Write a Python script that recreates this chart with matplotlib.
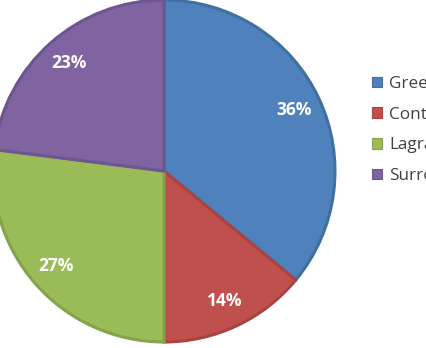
import matplotlib
matplotlib.use("Agg")
import matplotlib.pyplot as plt
from matplotlib.patches import Patch

categories = ["Green's function", "Continuum", "Lagrangian", "Surrogate"]
values = [36, 14, 27, 23]
colors = ["#4F81BD", "#C0504D", "#9BBB59", "#8064A2"]
edges = ["#41709F", "#A8443F", "#86A24B", "#6C5590"]

W, H = 427, 348
fig = plt.figure(figsize=(W / 100, H / 100), dpi=100)
ax = fig.add_axes([0, 0, 1, 1])

cx, cy, r = 164, 171, 171
wedges, texts, autotexts = ax.pie(
    values, colors=colors, startangle=90, counterclock=False,
    autopct=lambda p: f"{p:.0f}%", pctdistance=0.84, radius=1.0,
    wedgeprops=dict(linewidth=2.2),
    textprops=dict(color="white", fontsize=12.5, fontweight="bold", family="Open Sans"),
)
for w, e in zip(wedges, edges):
    w.set_edgecolor(e)

ax.set_xlim((0 - cx) / r, (W - cx) / r)
ax.set_ylim((cy - H) / r, cy / r)
ax.set_aspect("auto")
ax.axis("off")

handles = [Patch(facecolor=c, edgecolor=e, linewidth=0.8) for c, e in zip(colors, edges)]
leg = fig.legend(
    handles, categories, loc="upper left",
    bbox_to_anchor=(372 / W, 1 - 76 / H), frameon=False,
    prop=dict(family="Open Sans", size=12.3),
    handlelength=0.6, handleheight=0.6, handletextpad=0.42,
    labelspacing=0.86, borderaxespad=0, borderpad=0,
)
for t in leg.get_texts():
    t.set_color("#404040")

fig.savefig("out.png", dpi=100)
